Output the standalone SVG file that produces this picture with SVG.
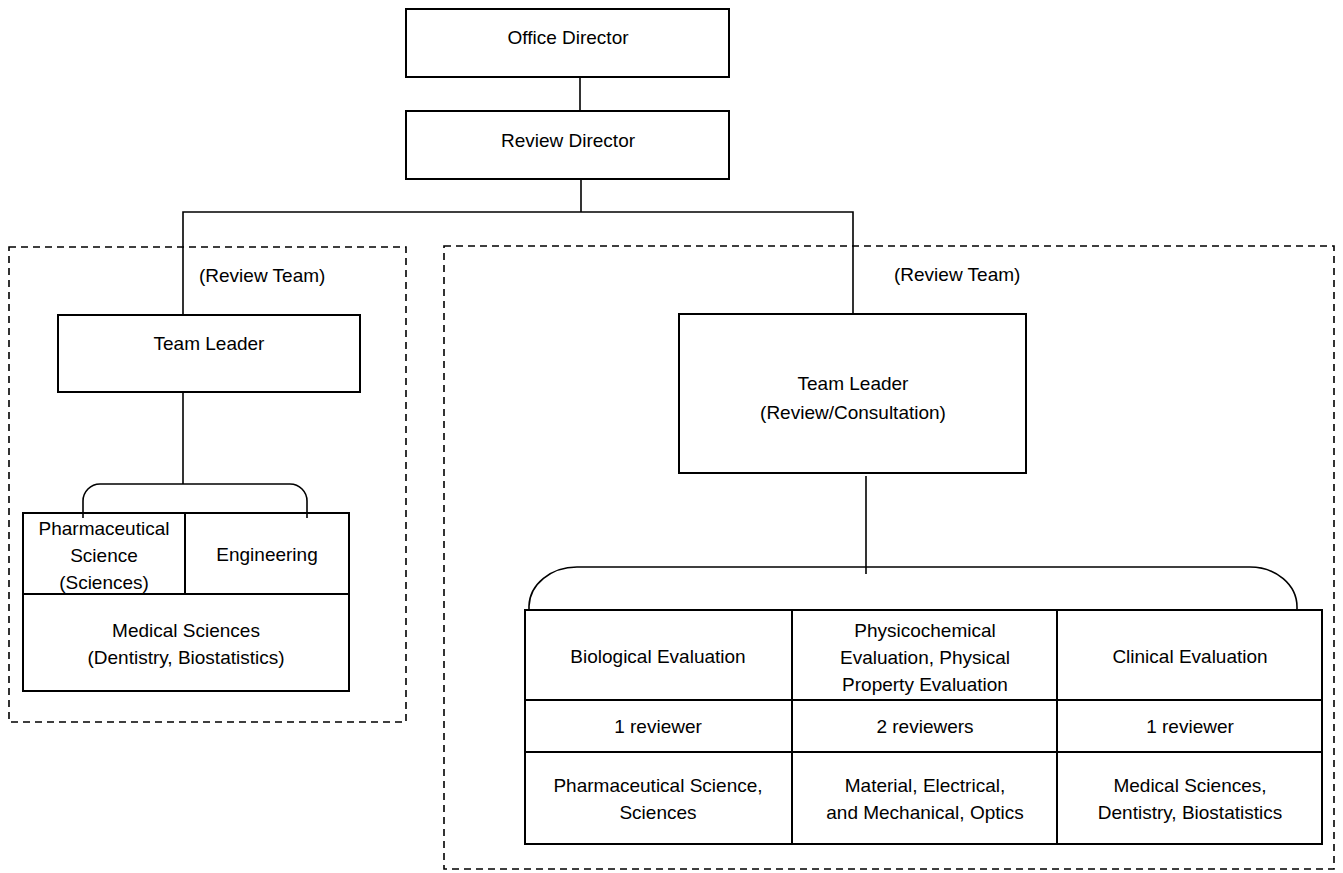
<svg xmlns="http://www.w3.org/2000/svg" width="1343" height="873" viewBox="0 0 1343 873">
  <style>
    .box { fill: #ffffff; stroke: #000000; stroke-width: 2; }
    .cell { fill: none; stroke: #000000; stroke-width: 2; }
    .team { fill: none; stroke: #000000; stroke-width: 1.6; stroke-dasharray: 7 5; }
    .link { fill: none; stroke: #000000; stroke-width: 1.6; }
    text { font-family: "Liberation Sans", Arial, sans-serif; font-size: 19px; fill: #000000; text-anchor: middle; }
    .lbl { text-anchor: start; }
  </style>

  <!-- dashed review-team frames -->
  <g id="team-frames">
    <rect class="team" x="9" y="247" width="397" height="475"/>
    <rect class="team" x="444" y="246" width="890" height="623"/>
    <text class="lbl" x="199" y="282">(Review Team)</text>
    <text class="lbl" x="894" y="281">(Review Team)</text>
  </g>

  <!-- connectors -->
  <g id="connectors">
    <line class="link" x1="580" y1="77" x2="580" y2="111"/>
    <line class="link" x1="581" y1="179" x2="581" y2="212"/>
    <polyline class="link" points="183,315 183,212 853,212 853,314"/>
    <line class="link" x1="183" y1="388" x2="183" y2="484"/>
    <path class="link" d="M83,518 V501 A17,17 0 0 1 100,484 H290 A17,17 0 0 1 307,501 V518"/>
    <line class="link" x1="866" y1="476" x2="866" y2="574"/>
    <path class="link" d="M529,610 V606 A48,40 0 0 1 577,567 H1250 A47,40 0 0 1 1297,607 V610"/>
  </g>

  <g id="office-director">
    <rect class="box" x="406" y="9" width="323" height="68"/>
    <text x="568" y="44">Office Director</text>
  </g>

  <g id="review-director">
    <rect class="box" x="406" y="111" width="323" height="68"/>
    <text x="568" y="147">Review Director</text>
  </g>

  <g id="team-leader-left">
    <rect class="box" x="58" y="315" width="302" height="77"/>
    <text x="209" y="350">Team Leader</text>
  </g>

  <g id="team-leader-right">
    <rect class="box" x="679" y="314" width="347" height="159"/>
    <text x="853" y="390">Team Leader</text>
    <text x="853" y="419">(Review/Consultation)</text>
  </g>

  <!-- left team specialties -->
  <g id="left-specialties">
    <rect class="cell" x="23" y="513" width="326" height="178"/>
    <line class="cell" x1="185" y1="513" x2="185" y2="594"/>
    <line class="cell" x1="23" y1="594" x2="349" y2="594"/>
    <text x="104" y="535">Pharmaceutical</text>
    <text x="104" y="562">Science</text>
    <text x="104" y="589">(Sciences)</text>
    <text x="267" y="561">Engineering</text>
    <text x="186" y="637">Medical Sciences</text>
    <text x="186" y="664">(Dentistry, Biostatistics)</text>
  </g>

  <!-- right team evaluation table -->
  <g id="evaluation-table">
    <rect class="cell" x="525" y="610" width="797" height="234"/>
    <line class="cell" x1="792" y1="610" x2="792" y2="844"/>
    <line class="cell" x1="1057" y1="610" x2="1057" y2="844"/>
    <line class="cell" x1="525" y1="700" x2="1322" y2="700"/>
    <line class="cell" x1="525" y1="752" x2="1322" y2="752"/>

    <text x="658" y="663">Biological Evaluation</text>
    <text x="925" y="637">Physicochemical</text>
    <text x="925" y="664">Evaluation, Physical</text>
    <text x="925" y="691">Property Evaluation</text>
    <text x="1190" y="663">Clinical Evaluation</text>

    <text x="658" y="733">1 reviewer</text>
    <text x="925" y="733">2 reviewers</text>
    <text x="1190" y="733">1 reviewer</text>

    <text x="658" y="792">Pharmaceutical Science,</text>
    <text x="658" y="819">Sciences</text>
    <text x="925" y="792">Material, Electrical,</text>
    <text x="925" y="819">and Mechanical, Optics</text>
    <text x="1190" y="792">Medical Sciences,</text>
    <text x="1190" y="819">Dentistry, Biostatistics</text>
  </g>
</svg>
